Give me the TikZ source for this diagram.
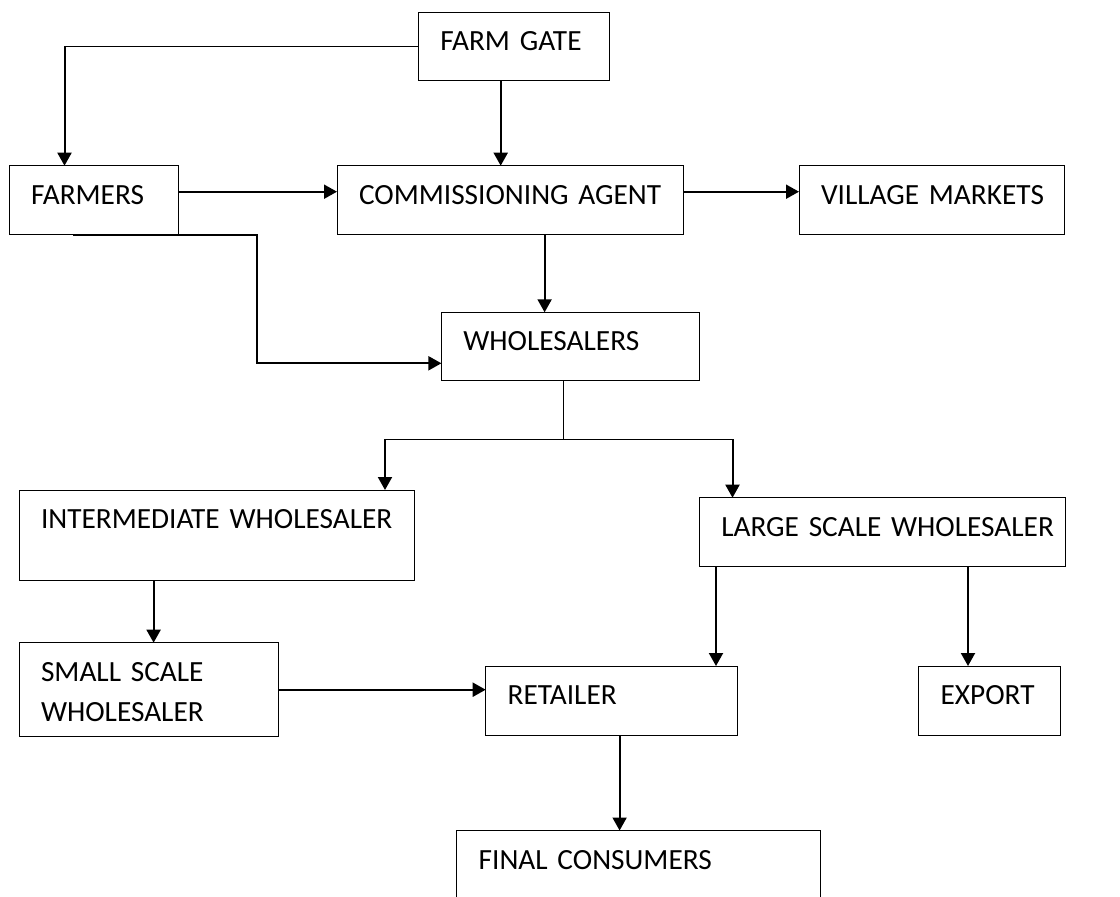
\documentclass[tikz,border=0pt]{standalone}
\usepackage{fontspec}
\setmainfont{Carlito}
\usetikzlibrary{arrows.meta, calc}

\begin{document}
\begin{tikzpicture}[x=1pt, y=-1pt, >={Triangle[length=13pt,width=14pt]}]
    \tikzstyle{format} = [draw, line width=1pt, anchor=north west, align=left,
	inner xsep=22pt, inner ysep=0pt, outer sep=0pt, text height=38.5pt,
	font=\fontsize{29.3pt}{40pt}\selectfont]
    \tikzstyle{link} = [->, line width=2pt]
    \tikzstyle{bus} = [-, line width=1pt]

	\useasboundingbox (0,0) rectangle (1120,897);
	\clip (0,0) rectangle (1120,897);

	\node[format, text width=146.7pt, text depth=29.5pt] (gate) at (418.3,12.3) {\mbox{FARM GATE}};
	\node[format, text width=125pt, text depth=30.5pt] (farmers) at (9,165.7) {\mbox{FARMERS}};
	\node[format, text width=302pt, text depth=30.5pt] (agent) at (337,165.7) {\mbox{COMMISSIONING AGENT}};
	\node[format, text width=221.6pt, text depth=30.5pt] (village) at (799,165.7) {\mbox{VILLAGE MARKETS}};
	\node[format, text width=213.6pt, text depth=29.5pt] (whole) at (441.4,312.3) {\mbox{WHOLESALERS}};
	\node[format, text width=351pt, text depth=51.5pt] (inter) at (19,490) {\mbox{INTERMEDIATE WHOLESALER}};
	\node[format, text width=321.7pt, text depth=29.8pt] (large) at (699.3,497.7) {\mbox{LARGE SCALE WHOLESALER}};
	\node[format, text width=215pt, text depth=55.5pt] (small) at (19,642.7) {\mbox{SMALL SCALE}\\\mbox{WHOLESALER}};
	\node[format, text width=207.8pt, text depth=30.5pt] (retail) at (485.7,666) {\mbox{RETAILER}};
	\node[format, text width=97.4pt, text depth=30.5pt] (export) at (918.6,666) {\mbox{EXPORT}};
	\node[format, text width=319.3pt, text depth=41.5pt] (final) at (456.7,830.5) {\mbox{FINAL CONSUMERS}};

	% farm gate
	\coordinate (fa) at ([xshift=55.5pt]farmers.north west);
	\draw[bus] (gate.west) -- (gate.west -| fa);
	\draw[link] (gate.west -| fa) -- (fa);
	\coordinate (ga) at ([xshift=82.4pt]gate.south west);
	\draw[link] (ga) -- (ga |- agent.north);

	% second row
	\draw[link] ([yshift=8.5pt]farmers.east) -- ([yshift=8.5pt]agent.west);
	\draw[link] ([yshift=8.5pt]agent.east) -- ([yshift=8.5pt]village.west);
	\draw[link] ([xshift=63.5pt]farmers.south west) -- ++(184.3,0) |- ([yshift=-17pt]whole.west);
	\coordinate (aw) at ([xshift=207.6pt]agent.south west);
	\draw[link] (aw) -- (aw |- whole.north);

	% wholesalers split
	\draw[bus] ([xshift=122.2pt]whole.south west) -- ++(0,59) coordinate (b0);
	\draw[bus] ([xshift=-178.6pt]b0) coordinate (bl) -- ([xshift=168.9pt]b0) coordinate (br);
	\draw[link] (bl) -- (bl |- inter.north);
	\draw[link] (br) -- (br |- large.north);

	% lower rows
	\coordinate (ib) at ([xshift=134.6pt]inter.south west);
	\draw[link] (ib) -- (ib |- small.north);
	\draw[link] (small.east) -- (small.east -| retail.west);
	\coordinate (l1) at ([xshift=16.7pt]large.south west);
	\draw[link] (l1) -- (l1 |- retail.north);
	\coordinate (l2) at ([xshift=268.7pt]large.south west);
	\draw[link] (l2) -- (l2 |- export.north);
	\coordinate (rb) at ([xshift=133.9pt]retail.south west);
	\draw[link] (rb) -- (rb |- final.north);
\end{tikzpicture}
\end{document}
